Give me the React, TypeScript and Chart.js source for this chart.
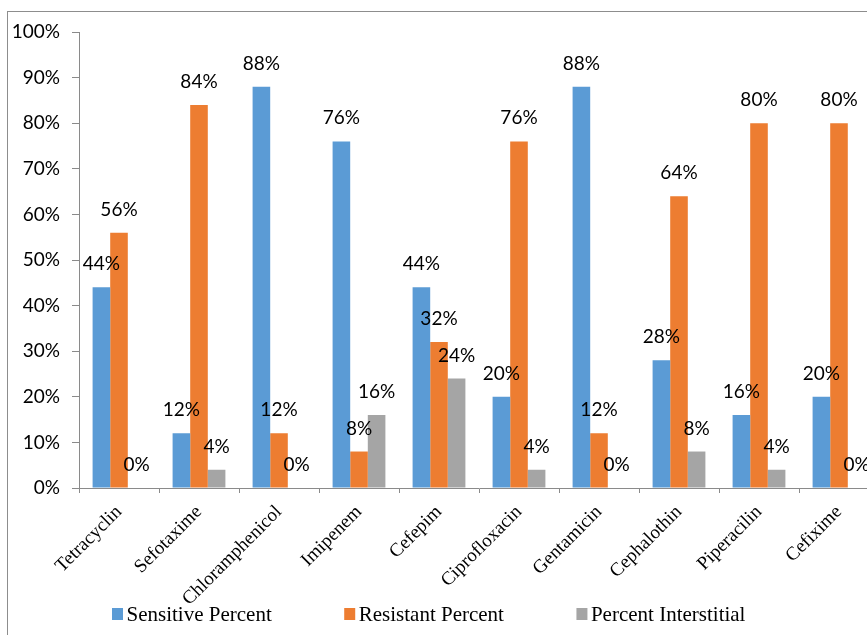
import React, { useEffect, useRef } from "react";
import { Chart, registerables } from "chart.js";

Chart.register(...registerables);

const categories = [
  "Tetracyclin",
  "Sefotaxime",
  "Chloramphenicol",
  "Imipenem",
  "Cefepim",
  "Ciprofloxacin",
  "Gentamicin",
  "Cephalothin",
  "Piperacilin",
  "Cefixime",
];
const sensitive = [44, 12, 88, 76, 44, 20, 88, 28, 16, 20];
const resistant = [56, 84, 12, 8, 32, 76, 12, 64, 80, 80];
const interstitial = [0, 4, 0, 16, 24, 4, 0, 8, 4, 0];
const seriesNames = ["Sensitive Percent", "Resistant Percent", "Percent Interstitial"];
const seriesColors = ["#5B9BD5", "#ED7D31", "#A5A5A5"];
const yMin = 0;
const yMax = 100;
const yStep = 10;

const LABEL_FONT = '19px Lato';
const AXIS_COLOR = "#8a8a8a";

const valueLabels = {
  id: "valueLabels",
  afterDatasetsDraw(chart: any) {
    const ctx = chart.ctx;
    ctx.save();
    ctx.font = LABEL_FONT;
    ctx.fillStyle = "#000";
    ctx.textAlign = "center";
    ctx.textBaseline = "alphabetic";
    chart.data.datasets.forEach((ds: any, i: number) => {
      const meta = chart.getDatasetMeta(i);
      meta.data.forEach((el: any, j: number) => {
        ctx.fillText(ds.data[j] + "%", el.x, el.y - 17);
      });
    });
    ctx.restore();
  },
};

const customLegend = {
  id: "customLegend",
  afterDraw(chart: any) {
    const ctx = chart.ctx;
    ctx.save();
    ctx.font = '21px "Liberation Serif"';
    ctx.textBaseline = "middle";
    ctx.textAlign = "left";
    let x = 104;
    const yc = 602;
    chart.data.datasets.forEach((ds: any) => {
      ctx.fillStyle = ds.backgroundColor;
      ctx.fillRect(x, yc - 6, 11, 12);
      ctx.fillStyle = "#000";
      ctx.fillText(ds.label, x + 14.5, yc + 1);
      x += 14.5 + ctx.measureText(ds.label).width + 72.5;
    });
    ctx.restore();
  },
};

export default function App() {
  const ref = useRef<HTMLCanvasElement>(null);

  useEffect(() => {
    if (!ref.current) return;
    const seriesData = [sensitive, resistant, interstitial];
    const chart = new Chart(ref.current, {
      type: "bar",
      data: {
        labels: categories,
        datasets: seriesNames.map((name, i) => ({
          label: name,
          data: seriesData[i],
          backgroundColor: seriesColors[i],
          borderWidth: 0,
          categoryPercentage: 0.66,
          barPercentage: 1.0,
        })),
      },
      options: {
        animation: false,
        responsive: false,
        maintainAspectRatio: false,
        layout: { padding: { left: 0, top: 20, right: 29, bottom: 0 } },
        plugins: {
          legend: { display: false },
          tooltip: { enabled: false },
        },
        scales: {
          x: {
            offset: true,
            grid: {
              display: true,
              drawOnChartArea: false,
              drawTicks: true,
              tickLength: 5,
              color: AXIS_COLOR,
              offset: true,
            },
            border: { display: true, color: AXIS_COLOR, width: 1 },
            ticks: {
              autoSkip: false,
              minRotation: 45,
              maxRotation: 45,
              padding: 8,
              color: "#000",
              font: { family: '"Liberation Serif"', size: 19 },
            },
            afterFit(scale: any) {
              scale.height = 147;
              scale.paddingLeft = 0;
              scale.paddingRight = 0;
            },
          },
          y: {
            min: yMin,
            max: yMax,
            grid: {
              display: true,
              drawOnChartArea: false,
              drawTicks: true,
              tickLength: 7,
              color: AXIS_COLOR,
            },
            border: { display: true, color: AXIS_COLOR, width: 1 },
            ticks: {
              stepSize: yStep,
              padding: 12,
              color: "#000",
              font: { family: "Lato", size: 19 },
              callback: (v: any) => v + "%",
            },
            afterFit(scale: any) {
              scale.width = 71;
              scale.paddingTop = 0;
              scale.paddingBottom = 0;
            },
          },
        },
      },
      plugins: [valueLabels, customLegend],
    });
    return () => chart.destroy();
  }, []);

  return (
    <div
      style={{
        position: "absolute",
        left: 0,
        top: 0,
        width: 867,
        height: 635,
        overflow: "hidden",
        background: "#fff",
      }}
    >
      <div
        style={{
          position: "absolute",
          left: 7,
          top: 11,
          borderLeft: "1px solid #8d8d8d",
          borderTop: "1px solid #8d8d8d",
          width: 900,
          height: 624,
        }}
      >
        <canvas ref={ref} width={900} height={623} style={{ display: "block", width: 900, height: 623 }} />
      </div>
    </div>
  );
}
